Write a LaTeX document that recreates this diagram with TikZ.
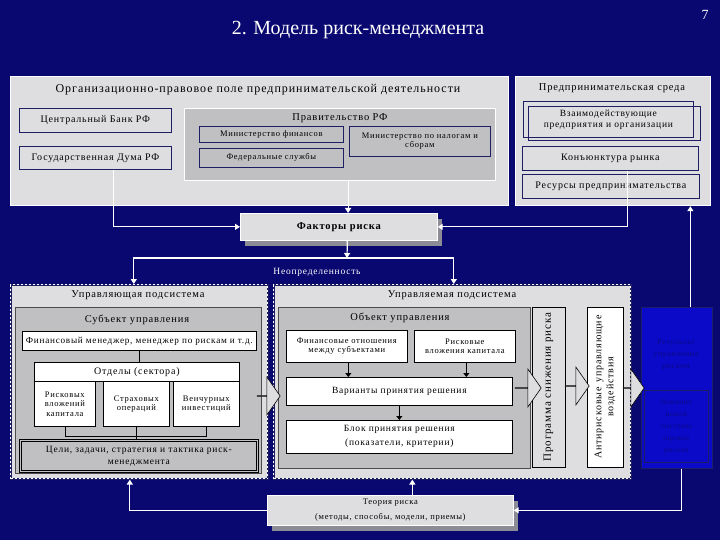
\documentclass[tikz,border=0pt]{standalone}
\usepackage{fontspec}
\setmainfont{Liberation Serif}[LetterSpace=8]
\newfontfamily\titlefont{Liberation Serif}
\usetikzlibrary{arrows.meta,positioning,calc,shapes.arrows,shadows}
\definecolor{bgnavy}{RGB}{8,8,112}
\definecolor{lpanel}{RGB}{222,222,224}
\definecolor{mpanel}{RGB}{192,192,194}
\definecolor{ink}{RGB}{30,30,100}
\definecolor{rblue}{RGB}{10,10,200}
\definecolor{rtext}{RGB}{10,10,135}
\definecolor{shade}{RGB}{140,140,150}
\tikzset{
  panel/.style={draw=white,line width=1.2pt,fill=#1},
  panel/.default={lpanel},
  dpanel/.style={fill=lpanel,draw=ink,line width=1.6pt,postaction={draw=white,line width=1.2pt,dash pattern=on 2pt off 2pt}},
  box/.style={draw=ink,fill=#1,line width=0.7pt,inner sep=1pt,align=center,font=\fontsize{10}{11}\selectfont},
  box/.default={lpanel},
  wbox/.style={box=white,draw=black},
  ttl/.style={font=\fontsize{10.5}{12}\selectfont,inner sep=0pt},
  sm/.style={font=\fontsize{8.5}{9.5}\selectfont},
  arr/.style={draw=white,line width=1.2pt,-{Triangle[length=5pt,width=6pt]}},
  blk/.style={black,line width=1.6pt,-{Triangle[length=4pt,width=6pt]}},
  harrow/.style={single arrow,draw=black,fill=lpanel,line width=0.6pt,inner sep=0pt,minimum width=38pt,single arrow head extend=13pt,single arrow tip angle=110},
  shd/.style={drop shadow={shadow xshift=5pt,shadow yshift=-6pt,fill=shade,opacity=1}},
}
\begin{document}
\begin{tikzpicture}[x=1pt,y=-1pt]
 \def\bx#1#2#3#4#5#6#7{\node[#1,anchor=north west,minimum width={(#5-#3)*1pt},minimum height={(#6-#4)*1pt}] (#2) at (#3,#4) {#7};}
 \fill[bgnavy] (0,0) rectangle (720,540);
 \node[white,font=\titlefont\fontsize{20}{22}\selectfont] (title) at (358,30) {2. Модель риск-менеджмента};
 \node[white,font=\titlefont\fontsize{14}{14}\selectfont] (pg) at (705,15) {7};
 % top panels
 \bx{panel}{org}{10}{76}{508}{205}{}
 \node[ttl,font=\fontsize{12}{13}\selectfont] (orgt) at (258,90) {Организационно-правовое поле предпринимательской деятельности};
 \bx{box}{cb}{19}{108}{171}{132}{Центральный Банк РФ}
 \bx{box}{duma}{19}{146}{171}{169}{Государственная Дума РФ}
 \bx{panel=mpanel}{gov}{184}{108}{495}{180}{}
 \node[ttl] (govt) at (340,118) {Правительство РФ};
 \bx{box=mpanel,sm}{minfin}{199}{126}{343}{142}{Министерство финансов}
 \bx{box=mpanel,sm}{fed}{199}{148}{343}{167}{Федеральные службы}
 \bx{box=mpanel,sm}{mnal}{349}{126}{490}{156}{Министерство по налогам и\\сборам}
 \bx{panel}{env}{515}{76}{710}{205}{}
 \node[ttl] (envt) at (612,88) {Предпринимательская среда};
 \bx{box,font=\fontsize{9.5}{11}\selectfont}{vzaim}{523}{101}{693}{137}{Взаимодействующие\\предприятия и организации}
 \draw[ink,line width=0.7pt] ([shift={(5,5)}]vzaim.north west) rectangle ([shift={(7,3)}]vzaim.south east);
 \bx{box}{konj}{522}{146}{698}{170}{Конъюнктура рынка}
 \bx{box}{res}{522}{174}{699}{198}{Ресурсы предпринимательства}
 % risk factors
 \bx{box,draw=white,shd,font=\bfseries\fontsize{10.5}{12}\selectfont}{fact}{240}{213}{437}{240}{Факторы риска}
 \coordinate (split) at (347,258);
 \draw[arr] ([xshift=18pt]duma.south) |- (fact.west);
 \draw[arr] ([xshift=8pt]gov.south) -- ([xshift=8pt]gov.south |- fact.north);
 \draw[arr] ([xshift=17pt]konj.south) |- (fact.east);
 \draw[arr] ([xshift=8.5pt]fact.south) -- (split);
 \node[white,ttl,font=\fontsize{9.5}{11}\selectfont] (unc) at (317,272) {Неопределенность};
 % managing subsystem
 \bx{dpanel}{ctrl}{10}{284}{267}{478}{}
 \node[ttl] (ctrlt) at (138,295) {Управляющая подсистема};
 \bx{box=mpanel,draw=black!70}{subj}{15}{307}{261}{473}{}
 \node[ttl] (subjt) at (137,320) {Субъект управления};
 \bx{wbox,font=\fontsize{9.2}{10}\selectfont}{fm}{22}{331}{256}{350}{Финансовый менеджер, менеджер по рискам и т.д.}
 \bx{wbox}{otd}{34}{362}{239}{381}{Отделы (сектора)}
 \bx{wbox,sm}{d1}{34}{381}{95}{426}{Рисковых\\вложений\\капитала}
 \bx{wbox,sm}{d2}{103}{381}{169}{426}{Страховых\\операций}
 \bx{wbox,sm}{d3}{173}{381}{239}{426}{Венчурных\\инвестиций}
 \bx{box=mpanel,draw=black,double=mpanel,double distance=1.2pt,font=\fontsize{9.5}{12}\selectfont}{goals}{20}{440}{257}{471}{Цели, задачи, стратегия и тактика риск-\\менеджмента}
 \draw[black] (fm.south) -- (fm.south |- otd.north);
 \draw[black] (d1.south) -- ++(0,9) -| (d3.south);
 \draw[black] (d2.south) -- (d2.south |- goals.north);
 % managed subsystem
 \bx{dpanel}{mng}{273}{284}{630}{478}{}
 \node[ttl] (mngt) at (452,295) {Управляемая подсистема};
 \bx{box=mpanel,draw=black!70}{obj}{278}{307}{530}{468}{}
 \node[ttl] (objt) at (400,318) {Объект управления};
 \bx{wbox,sm}{fo}{286}{330}{407}{362}{Финансовые отношения\\между субъектами}
 \bx{wbox,sm}{rv}{414}{330}{515}{362}{Рисковые\\вложения капитала}
 \bx{wbox,font=\fontsize{9.5}{11}\selectfont}{var}{286}{377}{512}{405}{Варианты принятия решения}
 \bx{wbox,font=\fontsize{9.5}{14}\selectfont}{blok}{286}{420}{512}{453}{Блок принятия решения\\(показатели, критерии)}
 \draw[blk] ([xshift=1.5pt]fo.south) -- ([xshift=1.5pt]fo.south |- var.north);
 \draw[blk] ([xshift=1.5pt]rv.south) -- ([xshift=1.5pt]rv.south |- var.north);
 \draw[blk] (var.south) -- (blok.north);
 \node[box,draw=black,rotate=90,minimum width=160pt,minimum height=33pt,font=\fontsize{11}{12}\selectfont] (prog) at (548.5,387) {Программа снижения риска};
 \node[wbox,rotate=90,minimum width=160pt,minimum height=36pt,font=\fontsize{10}{12}\selectfont] (anti) at (605,387) {Антирисковые\enspace управляющие\\воздействия};
 % result
 \bx{box=rblue,draw=ink}{rsl}{641}{307}{712}{468}{}
 \node[rtext,align=center,font=\fontsize{8}{12}\selectfont] (rslt) at (676,355) {Результат\\управления\\риском};
 \bx{box=rblue,draw=ink,text=rtext,font=\fontsize{7.5}{12}\selectfont}{infl}{644}{390}{708}{462}{Влияние\\новой\\системы\\оценки\\рисков};
 % block arrows
 \node[harrow,minimum height=23pt] (h1) at (268.5,396) {};
 \node[harrow,minimum height=26pt] (h2) at (528,388) {};
 \node[harrow,minimum height=24pt] (h3) at (577,386) {};
 \node[harrow,minimum height=21pt] (h4) at (633.5,388) {};
 \draw[arr] (split) -| ([xshift=-5.5pt]ctrl.north);
 \draw[arr] (split) -| ([xshift=1.5pt]mng.north);
 \draw[arr] ([xshift=13.5pt]rsl.north) -- ([xshift=13.5pt]rsl.north |- env.south);
 % theory
 \bx{box,draw=white,shd,font=\fontsize{8.5}{15}\selectfont}{teor}{267}{495}{513}{525}{Теория риска\\(методы, способы, модели, приемы)}
 \draw[arr] (teor.west) -| ([xshift=-9.5pt]ctrl.south);
 \draw[arr] ([xshift=22pt]teor.north) -- ([xshift=22pt]teor.north |- mng.south);
 \draw[arr] ([xshift=4.5pt]rsl.south) |- (teor.east);
\end{tikzpicture}
\end{document}
